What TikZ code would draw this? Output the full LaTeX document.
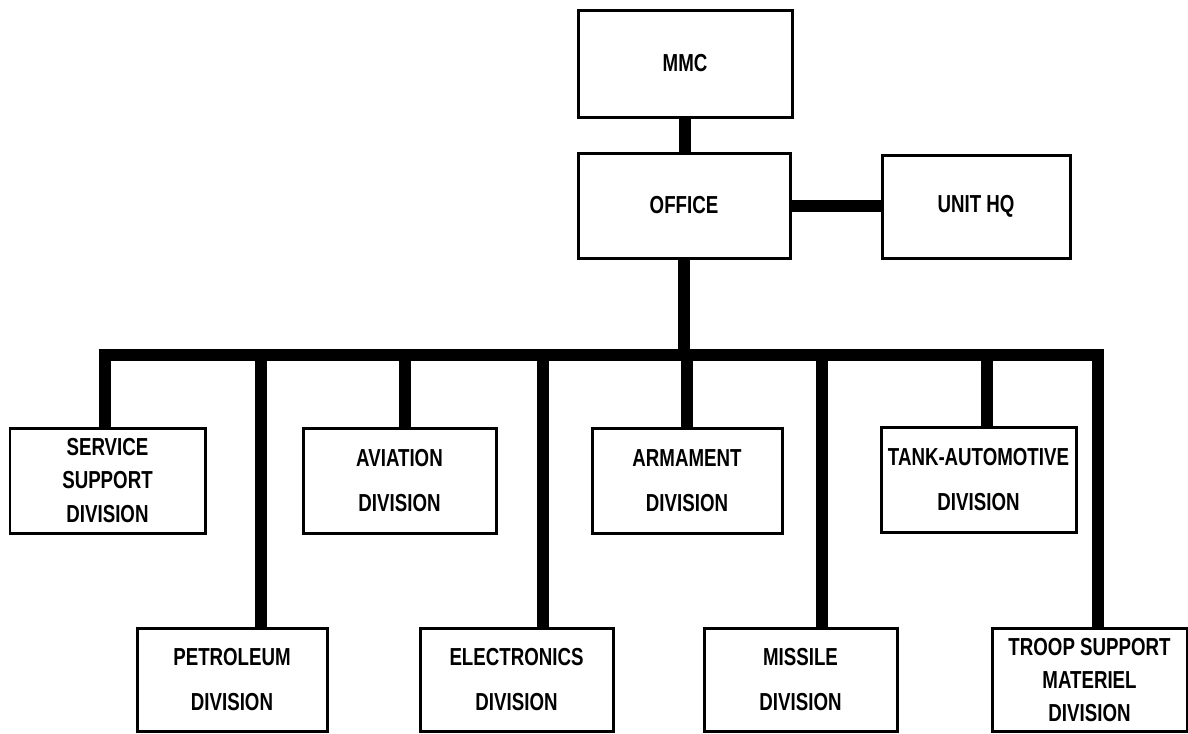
\documentclass[tikz,border=0pt]{standalone}
\usepackage{fontspec}
\setmainfont{Liberation Sans}[FakeStretch=0.76]
\usepackage{tikz}
\usetikzlibrary{positioning,calc}

\tikzset{
    orgbox/.style={draw, line width=0.06cm, align=center, inner sep=2pt,
        font=\fontsize{14}{18.8}\selectfont\bfseries,
        minimum width=3.86cm, minimum height=2.1cm},
    twoline/.style={font=\fontsize{14}{25.6}\selectfont\bfseries},
    trunk/.style={line width=0.24cm, line cap=rect}
}

\begin{document}
\begin{tikzpicture}[x=1cm,y=1cm]
    \useasboundingbox (0,0) rectangle (23.76,-14.66);

    % Headquarters
    \node[orgbox, minimum width=4.28cm, minimum height=2.14cm] (mmc) at (13.7,-1.27) {MMC};
    \node[orgbox, minimum width=4.24cm] (office) at (13.68,-4.11) {OFFICE};
    \node[orgbox, minimum width=3.76cm, minimum height=2.06cm] (unithq) at (19.52,-4.13) {UNIT HQ};

    % Upper row of divisions
    \node[orgbox, minimum width=3.9cm] (service) at (2.15,-9.61) {SERVICE\\SUPPORT\\DIVISION};
    \node[orgbox, twoline] (aviation) at (7.99,-9.61) {AVIATION\\DIVISION};
    \node[orgbox, twoline, minimum width=3.8cm] (armament) at (13.74,-9.61) {ARMAMENT\\DIVISION};
    \node[orgbox, twoline, minimum width=3.9cm] (tank) at (19.57,-9.6) {TANK-AUTOMOTIVE\\DIVISION};

    % Lower row of divisions
    \node[orgbox, twoline, minimum width=3.8cm, minimum height=2.06cm] (petroleum) at (4.64,-13.59) {PETROLEUM\\DIVISION};
    \node[orgbox, twoline, minimum height=2.06cm] (electronics) at (10.33,-13.59) {ELECTRONICS\\DIVISION};
    \node[orgbox, twoline, minimum height=2.06cm] (missile) at (16.01,-13.59) {MISSILE\\DIVISION};
    \node[orgbox, minimum width=3.9cm, minimum height=2.06cm] (troop) at (21.79,-13.6) {TROOP SUPPORT\\MATERIEL\\DIVISION};

    % Links between headquarters
    \draw[trunk, line cap=butt] (mmc.south) -- (mmc.south |- office.north);
    \draw[trunk, line cap=butt] (office.east) -- (office.east -| unithq.west);

    % Main bus
    \coordinate (bus) at ($(office.south)+(0,-1.9)$);
    \draw[trunk, line cap=butt] (office.south) -- (bus);
    \draw[trunk] ([xshift=-0.05cm]service.north |- bus) -- ([xshift=0.17cm]troop.north |- bus);

    % Drops to each division
    \foreach \unit/\dx in {service/-0.05, aviation/0.11, armament/0, tank/0.17,
                           petroleum/0.58, electronics/0.53, missile/0.43, troop/0.17} {
        \draw[trunk, line cap=butt] ([xshift=\dx cm]\unit.north) -- ([xshift=\dx cm]\unit.north |- bus);
    }
\end{tikzpicture}
\end{document}
